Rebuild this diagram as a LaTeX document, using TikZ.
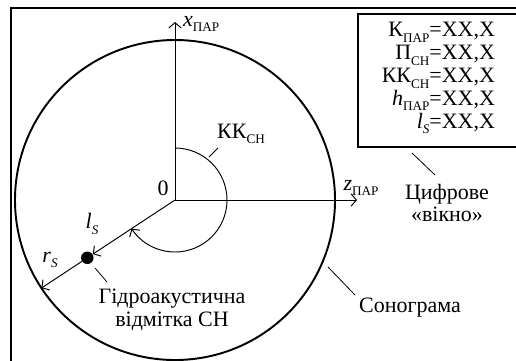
\documentclass[tikz,border=0pt]{standalone}
\usepackage{fontspec}
\setmainfont{Liberation Serif}
\usetikzlibrary{arrows.meta, positioning}
\newcommand{\lowr}[1]{\raisebox{-0.55ex}{\fontsize{7.5}{8}\selectfont #1}}
\tikzset{
  frame/.style  = {line width=1.1pt},
  sono/.style   = {line width=1.1pt},
  axis/.style   = {-{Straight Barb[length=3pt, width=7pt]}, line width=0.55pt},
  leader/.style = {line width=0.45pt},
  lbl/.style    = {inner sep=1pt, align=center, font=\fontsize{12.5}{13}\selectfont}
}

\begin{document}
\begin{tikzpicture}[x=0.02cm, y=0.02cm]
  \useasboundingbox (0,0) rectangle (516,360);

  % рамка і цифрове вікно
  \draw[frame] (11,-10) -- (11,352) -- (530,352);
  \draw[frame] (358,346) rectangle (530,213);
  \node (vals) [lbl, anchor=east] at (497,282)
    {\renewcommand{\arraystretch}{1}%
     \begin{tabular}{@{}r@{}l@{}}
       К\lowr{ПАР} & =XX,X\\
       П\lowr{СН}  & =XX,X\\
       КК\lowr{СН} & =XX,X\\
       \textit{h}\lowr{ПАР} & =XX,X\\
       \textit{l}\lowr{\textit{S}} & =XX,X
     \end{tabular}};

  % точки
  \coordinate (O)     at (175,160);
  \coordinate (xtip)  at (175,338);
  \coordinate (ztip)  at (357,160);
  \coordinate (arcA)  at (175,212);
  \coordinate (rim)   at (41.4,71.9);

  % сонограма та осі
  \draw[sono] (O) circle[radius=160];
  \draw[axis] (O) -- (xtip);
  \draw[axis] (O) -- (ztip);
  \draw[axis] (arcA) arc[start angle=90, end angle=-146.6, radius=52];

  % відмітка СН
  \node (mark) [circle, fill, inner sep=0pt, minimum size=0.25cm] at (87.3,102.2) {};
  \draw[axis] (O) -- (mark);
  \draw[axis] (mark) -- (rim);

  % підписи
  \node (xlab)  [lbl, anchor=west] at (181,336) {\textit{x}\lowr{ПАР}};
  \node (zlab)  [lbl] at (361,172) {\textit{z}\lowr{ПАР}};
  \node (zero)  [lbl] at (163,172) {0};
  \node (kklab) [lbl] at (241,226) {КК\lowr{СН}};
  \node (lslab) [lbl] at (92,136) {\textit{l}\lowr{\textit{S}}};
  \node (rslab) [lbl] at (50,100) {\textit{r}\lowr{\textit{S}}};
  \node (marklab) [lbl] at (172,50) {Гідроакустична\\відмітка СН};
  \node (sonolab) [lbl] at (410,52) {Сонограма};
  \node (winlab)  [lbl] at (447,157) {Цифрове\\«вікно»};

  % виноски
  \coordinate (kkA)   at (209,203);
  \coordinate (kkB)   at (218,212);
  \coordinate (markA) at (95,92);
  \coordinate (markB) at (107,78);
  \coordinate (sonoA) at (328,93);
  \coordinate (sonoB) at (355,65);
  \coordinate (winA)  at (412,207);
  \coordinate (winB)  at (435,185);
  \draw[leader] (kkA) -- (kkB);
  \draw[leader] (markA) -- (markB);
  \draw[leader] (sonoA) -- (sonoB);
  \draw[leader] (winA) -- (winB);
\end{tikzpicture}
\end{document}
